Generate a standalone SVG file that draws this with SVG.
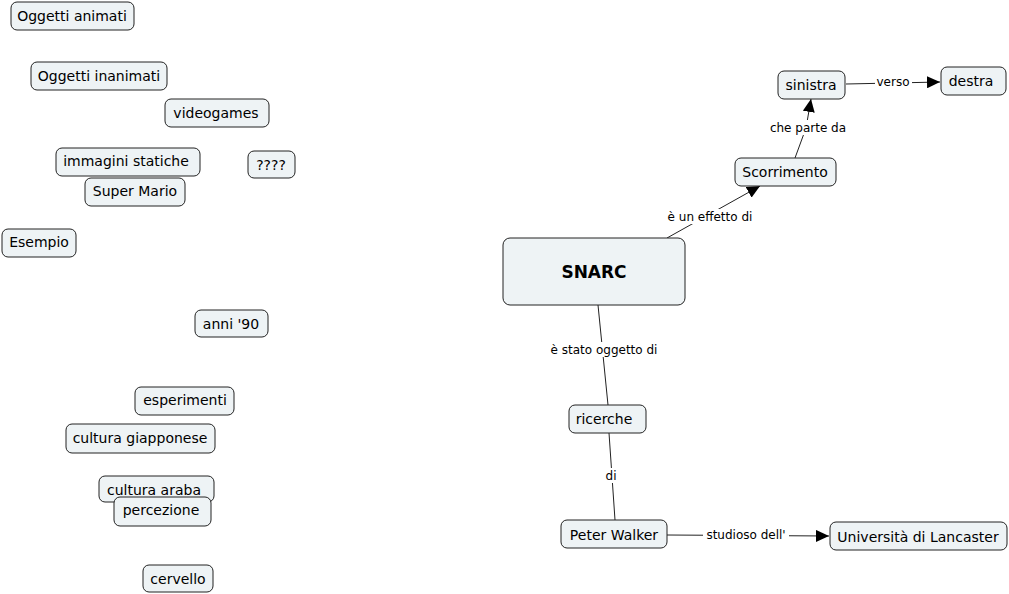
<svg xmlns="http://www.w3.org/2000/svg" width="1009" height="594" viewBox="0 0 1009 594">
<style>
.n rect{fill:#eef3f5;stroke:#222;stroke-width:1}
.n text{font-family:"DejaVu Sans",Verdana,sans-serif;font-size:14px;fill:#000;text-anchor:middle}
.c line,.c polyline{stroke:#222;stroke-width:1;fill:none}
.c text{font-family:"DejaVu Sans",Verdana,sans-serif;font-size:12px;fill:#000;text-anchor:middle}
.c rect{fill:#fff}
</style>
<defs>
<marker id="ah" markerUnits="userSpaceOnUse" markerWidth="14" markerHeight="12" refX="13" refY="6" orient="auto">
<path d="M0,0 L13,6 L0,12 Z" fill="#000"/>
</marker>
</defs>
<rect width="1009" height="594" fill="#fff"/>
<g class="c" id="connectors">
<line x1="667" y1="238" x2="760" y2="186" marker-end="url(#ah)"/>
<rect x="665" y="209" width="90" height="15"/>
<text x="710" y="221">è un effetto di</text>
<polyline points="795,158 806,128 811,99" marker-end="url(#ah)"/>
<rect x="767" y="120" width="82" height="15"/>
<text x="808" y="132">che parte da</text>
<line x1="846" y1="84" x2="940" y2="82" marker-end="url(#ah)"/>
<rect x="875" y="75" width="37" height="14"/>
<text x="893" y="86">verso</text>
<line x1="598" y1="305" x2="608" y2="405"/>
<rect x="549" y="342" width="110" height="15"/>
<text x="604" y="354">è stato oggetto di</text>
<line x1="609" y1="433" x2="615" y2="520"/>
<rect x="604" y="468" width="14" height="15"/>
<text x="611" y="480">di</text>
<line x1="667" y1="535" x2="829" y2="536" marker-end="url(#ah)"/>
<rect x="703" y="527" width="86" height="15"/>
<text x="746" y="539">studioso dell'</text>
</g>
<g class="n" id="n-oggetti-animati"><rect x="11" y="2" width="123" height="28" rx="6"/><text x="72" y="21">Oggetti animati</text></g>
<g class="n" id="n-oggetti-inanimati"><rect x="31" y="62" width="136" height="28" rx="6"/><text x="99" y="81">Oggetti inanimati</text></g>
<g class="n" id="n-videogames"><rect x="165" y="99" width="104" height="28" rx="6"/><text x="216" y="118">videogames</text></g>
<g class="n" id="n-immagini-statiche"><rect x="56" y="148" width="144" height="28" rx="6"/><text x="126" y="166">immagini statiche</text></g>
<g class="n" id="n-qqqq"><rect x="248" y="151" width="47" height="27" rx="6"/><text x="271" y="170">????</text></g>
<g class="n" id="n-super-mario"><rect x="85" y="178" width="100" height="28" rx="6"/><text x="135" y="196">Super Mario</text></g>
<g class="n" id="n-esempio"><rect x="2" y="229" width="74" height="28" rx="6"/><text x="39" y="247">Esempio</text></g>
<g class="n" id="n-anni90"><rect x="195" y="310" width="73" height="27" rx="6"/><text x="231" y="329">anni '90</text></g>
<g class="n" id="n-esperimenti"><rect x="135" y="387" width="99" height="28" rx="6"/><text x="185" y="405">esperimenti</text></g>
<g class="n" id="n-cultura-giapponese"><rect x="66" y="424" width="149" height="29" rx="6"/><text x="140" y="443">cultura giapponese</text></g>
<g class="n" id="n-cultura-araba"><rect x="99" y="476" width="115" height="26" rx="6"/><text x="154" y="495">cultura araba</text></g>
<g class="n" id="n-percezione"><rect x="114" y="497" width="97" height="29" rx="6"/><text x="161" y="515">percezione</text></g>
<g class="n" id="n-cervello"><rect x="143" y="565" width="70" height="27" rx="6"/><text x="178" y="584">cervello</text></g>
<g class="n" id="n-snarc"><rect x="503" y="238" width="182" height="67" rx="7"/><text x="594" y="278" style="font-size:17px;font-weight:bold">SNARC</text></g>
<g class="n" id="n-scorrimento"><rect x="735" y="158" width="101" height="28" rx="6"/><text x="785" y="177">Scorrimento</text></g>
<g class="n" id="n-sinistra"><rect x="778" y="71" width="67" height="28" rx="6"/><text x="811" y="90">sinistra</text></g>
<g class="n" id="n-destra"><rect x="941" y="67" width="65" height="28" rx="6"/><text x="971" y="86">destra</text></g>
<g class="n" id="n-ricerche"><rect x="569" y="405" width="77" height="28" rx="6"/><text x="604" y="424">ricerche</text></g>
<g class="n" id="n-peter-walker"><rect x="561" y="520" width="106" height="28" rx="6"/><text x="614" y="540">Peter Walker</text></g>
<g class="n" id="n-universita"><rect x="830" y="522" width="177" height="28" rx="6"/><text x="918" y="542">Università di Lancaster</text></g>
</svg>
